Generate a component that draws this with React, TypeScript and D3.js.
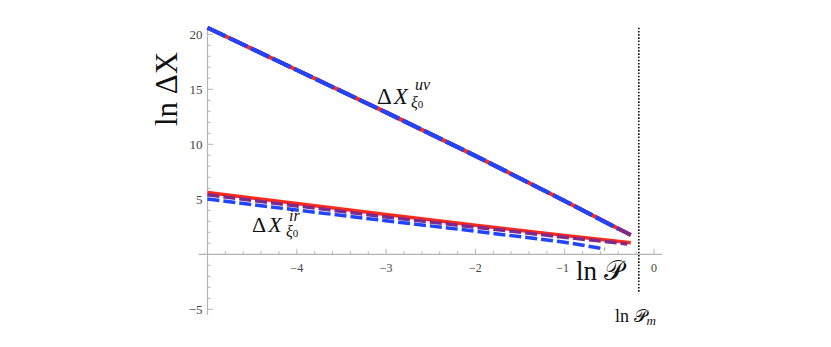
import * as d3 from 'd3'

// values
const lnP = [-5, -4, -3, -2, -1]
const uvRed = [20.6, 16.75, 12.9, 8.95, 4.85]
const irRed = [5.62, 4.62, 3.62, 2.64, 1.7]
const irPurple = [5.42, 4.4, 3.4, 2.46, 1.55]
const irBlue = [5.02, 4.02, 3.05, 2.1, 1.1]
const uvEnd = { x: -0.26, y: 1.75 }
const uvBlueEnd = { x: -0.4, y: 2.3 }
const irRedEnd = { x: -0.26, y: 1.05 }
const irPurpleEnd = { x: -0.3, y: 0.94 }
const irBlueEnd = { x: -0.55, y: 0.48 }
const lnPm = -0.17

const xMajor = [-4, -3, -2, -1, 0]
const yMajor = [-5, 5, 10, 15, 20]

const W = 831
const H = 347
const RED = '#ff2a1a'
const PURPLE = '#7d2a8c'
const BLUE = '#1f45ff'
const SERIF = '"Liberation Serif", "DejaVu Serif", serif'

type Pt = { x: number; y: number }
const series = (ys: number[], end: Pt): Pt[] => [...ys.map((y, i) => ({ x: lnP[i], y })), end]

export default function App() {
  const x = d3.scaleLinear().domain([-5, 0]).range([207.5, 654])
  const y = d3.scaleLinear().domain([0, 20]).range([254.3, 34.3])
  const line = d3.line<Pt>().x((d) => x(d.x)).y((d) => y(d.y))

  const xMinor = d3.range(-5, 0.01, 0.2).filter((v) => !xMajor.some((m) => Math.abs(m - v) < 1e-6))
  const yMinor = d3.range(-5, 20.01, 1).filter((v) => !yMajor.includes(v) && v !== 0)

  const axisCol = '#b4b4b4'
  const tickText = '#444'
  const lw = 3.5

  const uv = series(uvRed, uvEnd)
  const uvBlue = series(uvRed, uvBlueEnd)
  const ir = [
    { d: series(irRed, irRedEnd), c: RED, dash: null },
    { d: series(irPurple, irPurpleEnd), c: PURPLE, dash: '12,4' },
    { d: series(irBlue, irBlueEnd), c: BLUE, dash: '12,4' },
  ]

  return (
    <svg width={W} height={H} style={{ position: 'absolute', left: 0, top: 0, background: '#fff' }}>
      {/* axes */}
      <line x1={x(-5.1)} x2={x(0.09)} y1={y(0)} y2={y(0)} stroke={axisCol} strokeWidth={1.2} />
      <line x1={x(-5)} x2={x(-5)} y1={y(20.6)} y2={y(-5.5)} stroke={axisCol} strokeWidth={1.2} />
      {xMinor.map((v) => (
        <line key={'xm' + v} x1={x(v)} x2={x(v)} y1={y(0)} y2={y(0) - 3} stroke={axisCol} />
      ))}
      {xMajor.map((v) => (
        <g key={'xM' + v}>
          <line x1={x(v)} x2={x(v)} y1={y(0)} y2={y(0) - 5.5} stroke={axisCol} />
          <text x={x(v) - (v === -1 ? 2 : 0)} y={y(0) + 18} textAnchor="middle" fontFamily={SERIF} fontSize={12} fill={tickText}>
            {v === 0 ? '0' : '\u2212' + Math.abs(v)}
          </text>
        </g>
      ))}
      {yMinor.map((v) => (
        <line key={'ym' + v} x1={x(-5)} x2={x(-5) + 3} y1={y(v)} y2={y(v)} stroke={axisCol} />
      ))}
      {yMajor.map((v) => (
        <g key={'yM' + v}>
          <line x1={x(-5)} x2={x(-5) + 5.5} y1={y(v)} y2={y(v)} stroke={axisCol} />
          <text x={x(-5) - 5} y={y(v) + 4.5} textAnchor="end" fontFamily={SERIF} fontSize={13} fill={tickText}>
            {v < 0 ? '\u2212' + Math.abs(v) : v}
          </text>
        </g>
      ))}

      {/* ln P_m marker */}
      <line x1={x(lnPm)} x2={x(lnPm)} y1={y(20.6)} y2={y(-3.5)} stroke="#111" strokeWidth={1.6} strokeDasharray="1.6,1.6" />

      {/* curves */}
      <path d={line(uv) ?? ''} fill="none" stroke={RED} strokeWidth={lw + 0.5} />
      <path d={line(uv) ?? ''} fill="none" stroke={PURPLE} strokeWidth={lw + 0.5} strokeDasharray="20,4" />
      <path d={line(uvBlue) ?? ''} fill="none" stroke={BLUE} strokeWidth={lw + 0.5} strokeDasharray="20,4" />
      {ir.map((s, i) => (
        <path key={i} d={line(s.d) ?? ''} fill="none" stroke={s.c} strokeWidth={lw} strokeDasharray={s.dash ?? undefined} />
      ))}

      {/* labels */}
      <text
        transform={`translate(177,89) rotate(-90)`}
        textAnchor="middle"
        fontFamily={SERIF}
        fontSize={31}
        fill="#111"
      >
        ln ΔX
      </text>
      <text x={377} y={103.5} fontFamily={SERIF} fontSize={23} fill="#111">
        Δ<tspan fontStyle="italic" dx={2}>X</tspan>
      </text>
      <text x={415} y={90} fontFamily={SERIF} fontSize={16} fontStyle="italic" fill="#111">uv</text>
      <text x={411} y={108} fontFamily={SERIF} fontSize={16} fill="#111">
        <tspan fontStyle="italic">ξ</tspan>
        <tspan fontSize={11}>0</tspan>
      </text>
      <text x={252} y={232} fontFamily={SERIF} fontSize={22} fill="#111">
        Δ<tspan fontStyle="italic" dx={2}>X</tspan>
      </text>
      <text x={289} y={221} fontFamily={SERIF} fontSize={16} fontStyle="italic" fill="#111">ir</text>
      <text x={286} y={237} fontFamily={SERIF} fontSize={16} fill="#111">
        <tspan fontStyle="italic">ξ</tspan>
        <tspan fontSize={11}>0</tspan>
      </text>
      <text x={576} y={280} fontFamily={SERIF} fontSize={27} fill="#111">
        ln 𝒫
      </text>
      <text x={615} y={322} fontFamily={SERIF} fontSize={18} fill="#111">
        ln 𝒫<tspan fontStyle="italic" fontSize={13} dy={3}>m</tspan>
      </text>
    </svg>
  )
}
